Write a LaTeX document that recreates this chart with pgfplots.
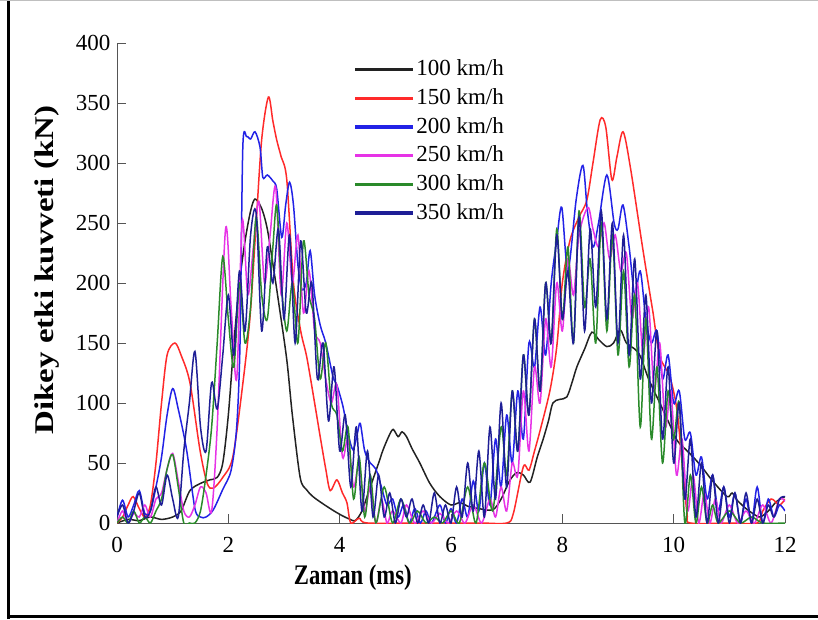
\documentclass[border=0pt]{standalone}
\usepackage{pgfplots}
\pgfplotsset{compat=1.18}
\usepackage{fontspec}
\usepackage{graphicx}
\setmainfont{Liberation Serif}
\definecolor{cBlack}{HTML}{222222}
\definecolor{cRed}{HTML}{FF2A2A}
\definecolor{cBlue}{HTML}{2222E6}
\definecolor{cMag}{HTML}{E633E6}
\definecolor{cGreen}{HTML}{2A8A2A}
\definecolor{cNavy}{HTML}{1E1E96}
\definecolor{axgray}{HTML}{555555}
\begin{document}
\begin{tikzpicture}
\begin{axis}[
  at={(117pt,96pt)}, anchor=south west,
  scale only axis, width=668pt, height=480pt,
  xmin=0, xmax=12, ymin=0, ymax=400,
  axis x line=bottom, axis y line=left,
  axis line style={-, axgray, line width=0.9pt},
  xtick={0,2,...,12}, ytick={0,50,...,400},
  tick style={axgray, line width=0.9pt},
  tick align=inside, major tick length=9pt,
  /pgf/number format/assume math mode=true,
  xticklabel style={font=\fontsize{23}{27}\selectfont, yshift=-11pt},
  yticklabel style={font=\fontsize{23}{27}\selectfont, xshift=-3pt},
  xlabel={\scalebox{0.84}[1.05]{\bfseries Zaman (ms)}},
  ylabel={\scalebox{1.22}[1]{\bfseries Dikey etki kuvveti (kN)}},
  label style={font=\fontsize{27}{30}\selectfont},
  xlabel style={at={(axis description cs:0.353,-0.113)}, anchor=center},
  ylabel style={at={(axis description cs:-0.105,0.527)}, anchor=center},
  clip=true,
  legend cell align=left,
  legend image code/.code={\fill[#1] (0pt,-0.9pt) rectangle (56pt,0.9pt);},
  legend style={draw=none, fill=none, at={(axis description cs:0.352,0.979)}, anchor=north west,
    font=\fontsize{23}{27}\selectfont, row sep=0pt,
    nodes={inner sep=3.5pt, text height=17pt, text depth=4.7pt}},
  every axis plot/.append style={line width=1.5pt, smooth, tension=0.5},
]
% 100 km/h
\addplot[color=cBlack] coordinates {
(0,0) (0.2,3) (0.4,2) (0.6,5) (0.8,3) (1.0,5) (1.15,10) (1.31,27) (1.5,33) (1.67,36) (1.8,38) (1.9,50) (2.0,90) (2.1,150) (2.2,200) (2.3,235) (2.4,260) (2.48,270) (2.6,262) (2.7,245) (2.8,216) (2.9,185) (3.05,136) (3.15,90) (3.29,38) (3.4,28) (3.52,22) (3.7,16) (3.9,10) (4.05,6) (4.19,3) (4.28,2) (4.4,10) (4.55,30) (4.7,50) (4.78,61) (4.88,72) (4.96,78) (5.05,72) (5.12,76) (5.2,72) (5.3,62) (5.44,50) (5.62,33) (5.8,22) (6.0,15) (6.16,17) (6.3,14) (6.5,12) (6.75,11) (6.9,20) (7.05,35) (7.18,42) (7.3,40) (7.42,34) (7.55,55) (7.65,69) (7.75,85) (7.83,100) (7.95,103) (8.08,105) (8.18,118) (8.26,130) (8.4,145) (8.53,159) (8.65,153) (8.8,147) (8.92,150) (9.04,161) (9.15,150) (9.3,145) (9.4,139) (9.55,120) (9.75,100) (9.9,85) (10.06,69) (10.2,62) (10.35,55) (10.5,47) (10.7,35) (10.96,22) (11.05,25) (11.14,19) (11.3,12) (11.42,8) (11.55,5) (11.7,10) (11.85,18) (12.0,22)
};
\addlegendentry{100 km/h}
% 150 km/h
\addplot[color=cRed] coordinates {
(0,0) (0.1,5) (0.2,15) (0.29,22) (0.4,12) (0.5,5) (0.6,15) (0.7,50) (0.8,100) (0.9,140) (1.04,150) (1.15,140) (1.31,117) (1.49,61) (1.62,33) (1.73,29) (1.9,38) (2.08,55) (2.26,116) (2.39,172) (2.5,250) (2.6,320) (2.72,355) (2.8,335) (2.87,319) (2.95,305) (3.05,286) (3.17,200) (3.3,160) (3.41,138) (3.55,100) (3.65,72) (3.75,45) (3.83,27) (3.95,36) (4.05,25) (4.13,17) (4.2,0) (4.35,4) (4.5,0) (5.5,0) (6.5,0) (7.0,0) (7.12,8) (7.3,47) (7.4,44) (7.5,60) (7.6,77) (7.78,111) (7.9,147) (8.0,200) (8.14,236) (8.3,255) (8.44,269) (8.55,300) (8.68,336) (8.78,330) (8.89,286) (8.98,305) (9.09,326) (9.22,297) (9.43,233) (9.57,192) (9.63,175) (9.75,139) (9.93,122) (10.06,94) (10.15,50) (10.24,8) (10.3,0) (11.0,0) (11.5,0) (11.6,10) (11.75,20) (11.9,15) (12.0,20)
};
\addlegendentry{150 km/h}
% 200 km/h
\addplot[color=cBlue] coordinates {
(0.0,5) (0.1,19) (0.2,5) (0.3,15) (0.4,27) (0.5,8) (0.6,10) (0.7,30) (0.8,55) (0.9,90) (1.0,112) (1.1,95) (1.25,61) (1.4,12) (1.5,5) (1.6,5) (1.73,11) (1.9,28) (2.05,44) (2.15,80) (2.21,150) (2.26,313) (2.33,322) (2.4,320) (2.48,326) (2.57,313) (2.62,288) (2.7,290) (2.8,285) (2.87,278) (2.96,238) (3.03,265) (3.1,284) (3.17,265) (3.25,215) (3.32,195) (3.4,200) (3.47,227) (3.55,190) (3.65,165) (3.75,150) (3.88,122) (3.95,115) (4.06,97) (4.15,75) (4.24,61) (4.32,75) (4.37,83) (4.45,60) (4.55,50) (4.65,45) (4.75,30) (4.85,15) (4.95,20) (5.05,5) (5.15,15) (5.25,0) (5.35,12) (5.45,0) (5.55,10) (5.65,0) (5.8,15) (5.9,0) (6.0,12) (6.1,0) (6.2,20) (6.3,5) (6.4,35) (6.5,10) (6.6,50) (6.7,15) (6.8,70) (6.9,30) (7.0,90) (7.1,50) (7.2,110) (7.3,70) (7.4,150) (7.5,130) (7.6,180) (7.7,140) (7.8,200) (7.9,236) (7.99,263) (8.1,210) (8.25,270) (8.37,298) (8.45,260) (8.55,230) (8.65,250) (8.8,290) (8.93,250) (9.0,245) (9.09,265) (9.2,230) (9.3,190) (9.4,210) (9.5,170) (9.6,150) (9.7,160) (9.8,120) (9.9,140) (10.0,100) (10.1,110) (10.2,70) (10.3,75) (10.4,40) (10.5,55) (10.6,20) (10.7,40) (10.8,10) (10.9,30) (11.0,5) (11.1,25) (11.2,0) (11.3,20) (11.4,0) (11.5,30) (11.6,0) (11.7,20) (11.8,5) (11.9,15) (12.0,10)
};
\addlegendentry{200 km/h}
% 250 km/h
\addplot[color=cMag] coordinates {
(0.0,0) (0.1,10) (0.2,0) (0.3,8) (0.4,5) (0.5,15) (0.6,5) (0.7,20) (0.8,25) (0.9,45) (1.0,58) (1.1,35) (1.2,10) (1.3,5) (1.4,15) (1.5,30) (1.6,25) (1.7,10) (1.8,80) (1.95,245) (2.05,180) (2.15,120) (2.25,252) (2.35,190) (2.45,230) (2.55,268) (2.65,200) (2.75,240) (2.85,280) (2.95,190) (3.05,250) (3.15,200) (3.25,240) (3.35,175) (3.45,210) (3.55,160) (3.65,150) (3.75,120) (3.85,100) (3.95,115) (4.05,55) (4.15,70) (4.25,30) (4.35,50) (4.45,10) (4.55,30) (4.65,0) (4.75,20) (4.85,0) (4.95,10) (5.1,0) (5.2,15) (5.35,0) (5.5,10) (5.65,0) (5.8,8) (5.95,0) (6.1,10) (6.25,0) (6.4,15) (6.55,0) (6.7,20) (6.8,5) (6.9,30) (7.0,10) (7.1,50) (7.2,40) (7.3,110) (7.4,60) (7.5,130) (7.6,100) (7.7,170) (7.8,130) (7.9,200) (8.0,160) (8.1,220) (8.2,190) (8.3,240) (8.46,263) (8.55,245) (8.65,230) (8.75,250) (8.85,220) (8.95,240) (9.05,210) (9.15,225) (9.25,170) (9.35,200) (9.45,140) (9.55,180) (9.65,110) (9.75,150) (9.85,80) (9.95,110) (10.05,40) (10.15,70) (10.25,10) (10.35,40) (10.45,0) (10.55,25) (10.65,0) (10.75,20) (10.85,0) (11.0,15) (11.15,0) (11.3,10) (11.45,0) (11.6,15) (11.75,0) (11.9,20) (12.0,18)
};
\addlegendentry{250 km/h}
% 300 km/h
\addplot[color=cGreen] coordinates {
(0.0,0) (0.1,5) (0.2,0) (0.3,10) (0.4,0) (0.5,5) (0.6,0) (0.7,10) (0.8,20) (0.9,45) (1.0,57) (1.1,30) (1.2,0) (1.3,0) (1.4,0) (1.5,10) (1.6,40) (1.7,80) (1.8,150) (1.9,222) (2.0,170) (2.1,130) (2.2,200) (2.3,150) (2.4,180) (2.5,255) (2.6,190) (2.7,170) (2.8,230) (2.87,265) (2.95,200) (3.05,160) (3.15,200) (3.25,150) (3.35,235) (3.45,190) (3.55,170) (3.65,120) (3.75,150) (3.85,100) (3.95,90) (4.05,60) (4.15,80) (4.25,20) (4.35,55) (4.45,5) (4.55,40) (4.65,0) (4.8,30) (4.95,0) (5.1,20) (5.25,0) (5.4,10) (5.55,0) (5.7,5) (5.85,0) (6.0,10) (6.15,0) (6.3,30) (6.45,0) (6.6,50) (6.75,10) (6.9,80) (7.0,40) (7.1,110) (7.2,60) (7.3,140) (7.4,90) (7.5,170) (7.6,110) (7.7,200) (7.8,150) (7.9,245) (8.0,170) (8.1,230) (8.2,150) (8.3,260) (8.4,180) (8.5,220) (8.6,150) (8.7,250) (8.8,160) (8.9,240) (9.0,140) (9.1,210) (9.2,130) (9.3,190) (9.4,80) (9.5,170) (9.6,70) (9.7,130) (9.8,50) (9.9,110) (10.0,70) (10.1,100) (10.2,0) (10.3,40) (10.4,0) (10.5,30) (10.6,0) (10.7,15) (10.8,0) (11.0,10) (11.2,0) (11.4,5) (11.6,0) (12.0,0)
};
\addlegendentry{300 km/h}
% 350 km/h
\addplot[color=cNavy] coordinates {
(0.0,5) (0.1,15) (0.2,0) (0.3,10) (0.4,25) (0.5,5) (0.6,10) (0.7,30) (0.8,15) (0.9,40) (1.0,20) (1.1,5) (1.2,60) (1.3,100) (1.4,143) (1.5,80) (1.6,60) (1.7,117) (1.8,95) (1.9,140) (2.0,190) (2.1,140) (2.2,210) (2.3,160) (2.4,240) (2.5,258) (2.6,160) (2.7,230) (2.8,200) (2.9,245) (3.0,170) (3.1,240) (3.2,150) (3.3,235) (3.4,175) (3.5,200) (3.6,120) (3.7,150) (3.8,85) (3.9,130) (4.0,60) (4.1,90) (4.2,30) (4.3,80) (4.4,10) (4.5,60) (4.6,5) (4.7,40) (4.8,5) (4.9,25) (5.0,0) (5.1,20) (5.2,5) (5.3,20) (5.4,0) (5.5,15) (5.6,0) (5.7,25) (5.8,0) (5.9,15) (6.0,0) (6.1,30) (6.2,5) (6.3,50) (6.4,10) (6.5,60) (6.6,5) (6.7,80) (6.8,20) (6.9,100) (7.0,30) (7.1,110) (7.2,60) (7.3,140) (7.4,90) (7.5,170) (7.6,110) (7.7,200) (7.8,150) (7.9,240) (8.0,170) (8.1,210) (8.2,150) (8.3,255) (8.4,160) (8.5,245) (8.6,180) (8.7,260) (8.8,170) (8.9,250) (9.0,150) (9.1,240) (9.2,140) (9.3,220) (9.4,120) (9.5,190) (9.6,100) (9.7,160) (9.8,70) (9.9,130) (10.0,50) (10.1,100) (10.2,20) (10.3,70) (10.4,5) (10.5,50) (10.6,0) (10.7,40) (10.8,0) (10.9,30) (11.0,0) (11.1,25) (11.2,0) (11.3,25) (11.4,0) (11.5,20) (11.6,0) (11.7,15) (11.8,5) (11.9,20) (12.0,22)
};
\addlegendentry{350 km/h}
\end{axis}
\draw[black, line width=3pt] (8.5pt,0pt) -- (8.5pt,619pt);
\draw[black, line width=3pt] (7pt,2.5pt) -- (818pt,2.5pt);
\draw[black!25, line width=1pt] (0pt,618.5pt) -- (818pt,618.5pt);
\pgfresetboundingbox
\path (0pt,0pt) rectangle (818pt,619pt);
\end{tikzpicture}
\end{document}
